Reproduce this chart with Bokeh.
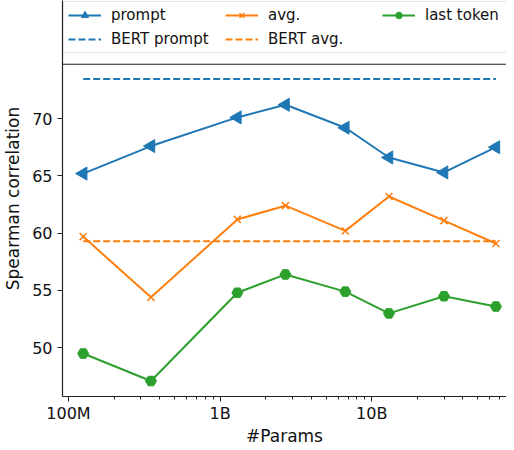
from math import pi

from bokeh.embed import file_html
from bokeh.models import FixedTicker, Legend, LegendItem, Range1d, Span
from bokeh.plotting import figure
from bokeh.resources import INLINE

# model sizes (OPT family) and Spearman correlations
params = [125e6, 350e6, 1.3e9, 2.7e9, 6.7e9, 13e9, 30e9, 66e9]
prompt = [65.2, 67.6, 70.1, 71.2, 69.2, 66.6, 65.3, 67.5]
avg = [59.7, 54.4, 61.2, 62.4, 60.2, 63.2, 61.1, 59.1]
last_token = [49.5, 47.1, 54.8, 56.4, 54.9, 53.0, 54.5, 53.6]
bert_prompt = 73.45
bert_avg = 59.3

x_ticks = [1e8, 1e9, 1e10]
x_tick_labels = ["100M", "1B", "10B"]
y_ticks = [50, 55, 60, 65, 70]

BLUE, ORANGE, GREEN = "#1f77b4", "#ff7f0e", "#2ca02c"
FONT = "DejaVu Sans"
SPINE = "#222222"
Y_TOP = 74.74  # top of the data area; the legend sits above it

p = figure(
    frame_width=444, frame_height=396,
    x_axis_type="log",
    x_range=Range1d(9.13e7, 7.75e10),
    y_range=Range1d(45.75, 80.3),
    output_backend="svg", toolbar_location=None,
    min_border_left=54, min_border_right=0,
    min_border_top=0, min_border_bottom=0,
)
p.grid.visible = False
p.outline_line_color = None
p.add_layout(Span(location=Y_TOP, dimension="width",
                  line_color=SPINE, line_width=1.2))

# lines
l_prompt = p.line(params, prompt, color=BLUE, line_width=2)
m_prompt = p.scatter(params, prompt, marker="triangle", angle=pi / 2,
                     size=13, color=BLUE)
l_bert_p = p.line(params, [bert_prompt] * len(params), color=BLUE,
                  line_width=2, line_dash="7 3")

l_avg = p.line(params, avg, color=ORANGE, line_width=2)
m_avg = p.scatter(params, avg, marker="x", size=10, line_color=ORANGE,
                  line_width=1.5)
l_bert_a = p.line(params, [bert_avg] * len(params), color=ORANGE,
                  line_width=2, line_dash="7 3")

l_last = p.line(params, last_token, color=GREEN, line_width=2)
m_last = p.scatter(params, last_token, marker="hex", size=11, color=GREEN)

# axes
minor = [m * t for t in x_ticks for m in range(2, 10)]
p.xaxis.ticker = FixedTicker(ticks=x_ticks, minor_ticks=minor)
p.xaxis.major_label_overrides = {t: s for t, s in zip(x_ticks, x_tick_labels)}
p.yaxis.ticker = FixedTicker(ticks=y_ticks, minor_ticks=[])

for ax in (p.xaxis[0], p.yaxis[0]):
    ax.axis_line_color = SPINE
    ax.axis_line_width = 1.2
    ax.major_tick_line_color = SPINE
    ax.minor_tick_line_color = SPINE
    ax.major_tick_in = 0
    ax.major_tick_out = 5
    ax.minor_tick_in = 0
    ax.minor_tick_out = 3
    ax.major_label_text_font = FONT
    ax.major_label_text_font_size = "16px"
    ax.major_label_text_color = "#111111"
    ax.axis_label_text_font = FONT
    ax.axis_label_text_font_size = "17px"
    ax.axis_label_text_font_style = "normal"
    ax.axis_label_text_color = "#111111"

p.xaxis.major_label_standoff = 2
p.xaxis.axis_label_standoff = 0
p.yaxis.major_label_standoff = 5
p.yaxis.axis_label_standoff = 6

p.xaxis.axis_label = "#Params"
p.yaxis.axis_label = "Spearman correlation"

legend = Legend(
    items=[
        LegendItem(label="prompt", renderers=[l_prompt, m_prompt]),
        LegendItem(label="BERT prompt", renderers=[l_bert_p]),
        LegendItem(label="avg.", renderers=[l_avg, m_avg]),
        LegendItem(label="BERT avg.", renderers=[l_bert_a]),
        LegendItem(label="last token", renderers=[l_last, m_last]),
    ],
    location="top_left",
    orientation="vertical",
    nrows=2,
    margin=1,
    padding=4,
    spacing=6,
    label_text_font=FONT,
    label_text_font_size="15px",
    label_text_color="#111111",
    label_height=18,
    label_width=108,
    glyph_height=18,
    glyph_width=33,
    label_standoff=10,
    border_line_color="#cccccc",
    border_line_width=1,
    background_fill_alpha=0.8,
)
p.add_layout(legend, "center")

open("out.html", "w").write(file_html(p, INLINE))
